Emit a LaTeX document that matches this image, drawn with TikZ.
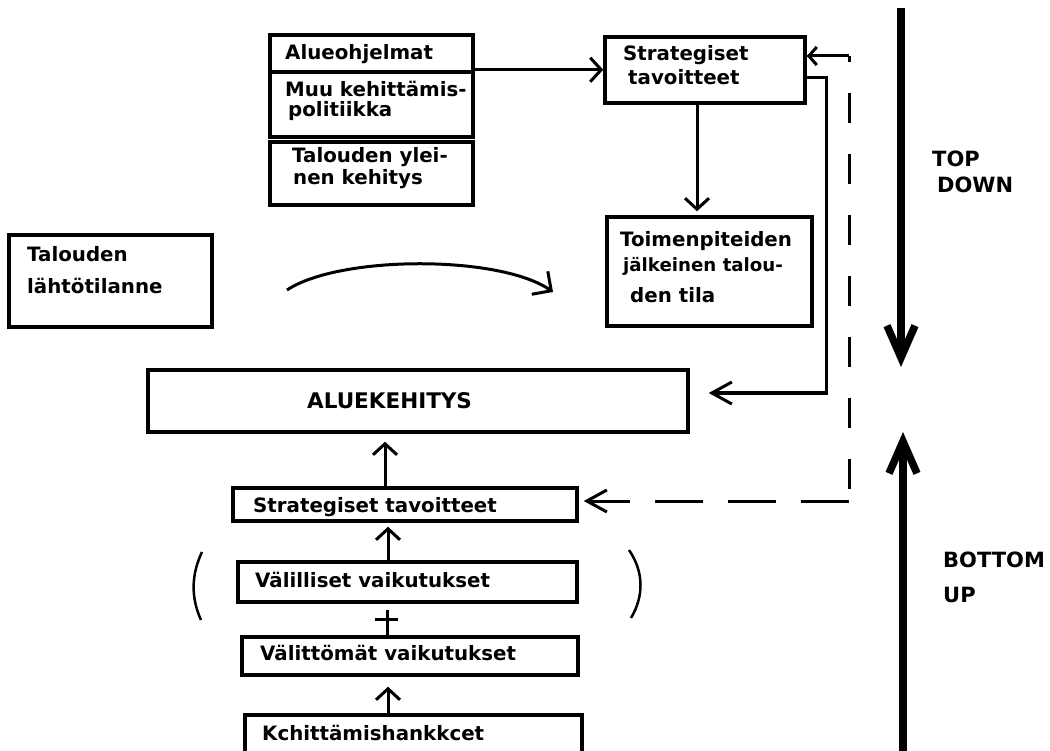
\documentclass[tikz,border=0pt]{standalone}
\usepackage{fontspec}
\setmainfont{DejaVu Sans}
\usetikzlibrary{arrows.meta}
\begin{document}
\begin{tikzpicture}[x=1pt,y=-1pt,
  box/.style={draw, line width=3.5pt, inner sep=0pt, rectangle},
  txt/.style={inner sep=0pt, anchor=base west, font=\bfseries\fontsize{19.8pt}{22pt}\selectfont},
  big/.style={inner sep=0pt, anchor=base west, font=\bfseries\fontsize{21pt}{24pt}\selectfont},
  conn/.style={line width=3pt},
  arr/.style={conn, -{Straight Barb[length=11pt,width=24pt]}},
  arrl/.style={conn, -{Straight Barb[length=20pt,width=22pt]}},
  dsh/.style={conn, dash pattern=on 30pt off 31pt, dash phase=24pt},
  hugearrow/.style={line width=7.5pt, -{Straight Barb[length=32pt,width=28pt]}},
]
\useasboundingbox (0,0) rectangle (1050,751);
\fill[white] (0,0) rectangle (1050,751);

% boxes
\node[box, minimum width=203pt, minimum height=37pt] (alue) at (371.5,53.5) {};
\node[box, minimum width=203pt, minimum height=65pt] (muu) at (371.5,104.5) {};
\node[box, minimum width=203pt, minimum height=63pt] (talyl) at (371.5,173.5) {};
\node[box, minimum width=200pt, minimum height=66pt] (sg1) at (705,70) {};
\node[box, minimum width=205pt, minimum height=109pt] (toim) at (709.5,271.5) {};
\node[box, minimum width=203pt, minimum height=92pt] (talo) at (110.5,281) {};
\node[box, minimum width=540pt, minimum height=62pt] (aluek) at (418,401) {};
\node[box, minimum width=344pt, minimum height=33pt] (sg2) at (405,504.5) {};
\node[box, minimum width=339pt, minimum height=40pt] (val) at (407.5,582) {};
\node[box, minimum width=336pt, minimum height=38pt] (vlt) at (410,656) {};
\node[box, minimum width=337pt, minimum height=60pt] (keh) at (413.5,745) {};

% texts
\node[txt] (t-alue) at (285,60) {Alueohjelmat};
\node[txt] (t-muu1) at (285,97) {Muu kehittämis-};
\node[txt] (t-muu2) at (288,117) {politiikka};
\node[txt] (t-tal1) at (292,163) {Talouden ylei-};
\node[txt] (t-tal2) at (293,185) {nen kehitys};
\node[txt] (t-sg1a) at (623,61) {Strategiset};
\node[txt] (t-sg1b) at (628,85) {tavoitteet};
\node[txt] (t-toim1) at (620,247) {Toimenpiteiden};
\node[txt, font=\bfseries\fontsize{18.2pt}{22pt}\selectfont] (t-toim2) at (623,272) {jälkeinen talou-};
\node[txt] (t-toim3) at (630,303) {den tila};
\node[txt] (t-talo1) at (27,262) {Talouden};
\node[txt] (t-talo2) at (27,294) {lähtötilanne};
\node[inner sep=0pt, anchor=base west, font=\bfseries\fontsize{21.5pt}{26pt}\selectfont] (t-aluek) at (307,408) {ALUEKEHITYS};
\node[txt] (t-sg2) at (253,512) {Strategiset tavoitteet};
\node[txt] (t-val) at (255,587) {Välilliset vaikutukset};
\node[txt] (t-vlt) at (260,660) {Välittömät vaikutukset};
\node[txt] (t-keh) at (262,740) {Kchittämishankkcet};
\node[big] (t-top) at (932,167) {TOP};
\node[big] (t-down) at (937,193) {DOWN};
\node[big] (t-bottom) at (943,567) {BOTTOM};
\node[big] (t-up) at (943,602) {UP};

% connectors
\coordinate (a1) at ([yshift=4pt]alue.south east);
\draw[arr] (a1) -- (a1 -| sg1.west);

\coordinate (s1) at ([xshift=-8pt]sg1.south);
\draw[arr, shorten >=4pt] (s1) -- (s1 |- toim.north);

\coordinate (f0) at ([yshift=-8pt]sg1.east);
\coordinate (f1) at (826,78);
\coordinate (f2) at (826,393);
\draw[arrl, shorten >=19pt] (f0) -- (f1) -- (f2) -- (f2 -| aluek.east);

\coordinate (dtop) at (849,56);
\coordinate (dbot) at (849,501);
\draw[conn, -{Straight Barb[length=8pt,width=18pt]}] (dtop) -- (dtop -| sg1.east);
\draw[dsh] (dtop) -- (dbot);
\draw[arrl, dash pattern=on 48pt off 25pt, shorten >=5pt] (dbot) -- (dbot -| sg2.east);

\coordinate (u1) at ([xshift=-20pt]sg2.north);
\draw[arr, shorten >=8pt] (u1) -- (u1 |- aluek.south);
\coordinate (u2) at ([xshift=-19.5pt]val.north);
\draw[arr, shorten >=4pt] (u2) -- (u2 |- sg2.south);
\coordinate (u3) at ([xshift=-25.5pt]keh.north);
\draw[arr, shorten >=10pt] (u3) -- (u3 |- vlt.south);

% plus sign
\coordinate (p1) at ([xshift=-23pt]vlt.north);
\draw[conn] (p1) -- ++(0,-25);
\draw[conn] (375,619) -- (398,619);

% curved arrow
\coordinate (c0) at (287,290);
\coordinate (c1) at (553,292);
\draw[conn, -{Straight Barb[length=14pt,width=28pt]}] (c0) .. controls (340,255) and (500,255) .. (c1);

% parentheses
\draw[line width=2.5pt] (202,552) .. controls (191,575) and (191,598) .. (201,620);
\draw[line width=2.5pt] (629,550) .. controls (644,572) and (644,596) .. (631,618);

% big arrows
\coordinate (td0) at (901,8);
\coordinate (td1) at (901,367);
\draw[hugearrow] (td0) -- (td1);
\coordinate (bu0) at (903,760);
\coordinate (bu1) at (903,432);
\draw[hugearrow] (bu0) -- (bu1);
\end{tikzpicture}
\end{document}
